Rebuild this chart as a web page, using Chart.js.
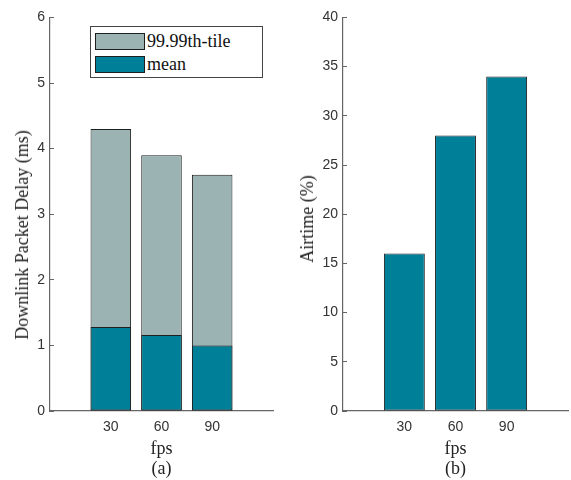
<!DOCTYPE html>
<html>
<head>
<meta charset="utf-8">
<script src="https://cdn.jsdelivr.net/npm/chart.js@4.4.0/dist/chart.umd.min.js"></script>
<style>
  body { margin: 0; background: #fff; }
  #wrap { position: relative; width: 571px; height: 480px; }
  canvas { position: absolute; top: 0; }
  .ytitle { position: absolute; font: 18px "Liberation Serif", serif; color: #222; white-space: nowrap;
            line-height: 1; transform: translate(-50%, -50%) rotate(-90deg); }
  #legend { position: absolute; left: 90px; top: 26px; width: 171px; height: 50px; border: 1px solid #444;
            background: #fff; box-sizing: content-box; padding: 0; }
  #legend .row { height: 23px; display: flex; align-items: center; font: 18px "Liberation Serif", serif; color: #111; }
  #legend .row:first-child { margin-top: 3px; }
  #legend .sw { width: 48px; height: 15px; border: 1px solid #1e1e1e; margin: 0 2px 0 4px; }
</style>
</head>
<body>
<div id="wrap">
  <canvas id="delay" width="290" height="480" style="left:0"></canvas>
  <canvas id="airtime" width="281" height="480" style="left:290px"></canvas>
  <div class="ytitle" style="left:22px;top:235px">Downlink Packet Delay (ms)</div>
  <div class="ytitle" style="left:307px;top:219px">Airtime (%)</div>
  <div id="legend"></div>
</div>
<script>
const fps = [30, 60, 90];
const delayTail = [4.3, 3.9, 3.6];     // 99.99th-tile (ms)
const delayMean = [1.28, 1.16, 1.0];   // mean (ms)
const airtime = [16, 28, 34];          // airtime (%)
const delayMax = 6, delayStep = 1;
const airMax = 40, airStep = 5;

const TEAL = '#007f99';
const GREY = '#9bb3b2';
const EDGE = '#1e1e1e';
const AXIS = '#666';

Chart.defaults.font.family = 'Liberation Sans';

const pts = vals => fps.map((x, i) => ({ x: x, y: vals[i] }));

function makeChart(id, datasets, yMax, yStep, yWidth, padRight, panel) {
  return new Chart(document.getElementById(id), {
    type: 'bar',
    data: { datasets: datasets },
    options: {
      responsive: false,
      animation: false,
      layout: { padding: { top: 14, right: padRight, bottom: 0, left: 0 } },
      plugins: { legend: { display: false }, tooltip: { enabled: false } },
      datasets: {
        bar: {
          grouped: false, categoryPercentage: 1, barPercentage: 0.8,
          borderWidth: 1, borderColor: EDGE, borderSkipped: false
        }
      },
      scales: {
        x: {
          type: 'linear', min: -6, max: 126, offset: false,
          afterBuildTicks: s => { s.ticks = fps.map(v => ({ value: v })); },
          afterFit: s => { s.height = 69; },
          ticks: { font: { size: 14 }, color: '#333', padding: 8, autoSkip: false, maxRotation: 0 },
          grid: { drawOnChartArea: false, drawTicks: false },
          border: { color: AXIS, width: 1.2 },
          title: {
            display: true, text: ['fps', panel], color: '#222',
            font: { family: 'Liberation Serif', size: 18, lineHeight: 1.1 },
            padding: { top: 0, bottom: 1 }
          }
        },
        y: {
          min: 0, max: yMax,
          afterFit: s => { s.width = yWidth; },
          ticks: { stepSize: yStep, font: { size: 14 }, color: '#333', padding: 9 },
          grid: { drawOnChartArea: false, tickLength: -4, tickColor: AXIS },
          border: { color: AXIS, width: 1.2 }
        }
      }
    }
  });
}

const delaySets = [
  { label: '99.99th-tile', data: pts(delayTail), backgroundColor: GREY, order: 2 },
  { label: 'mean', data: pts(delayMean), backgroundColor: TEAL, order: 1 }
];
makeChart('delay', delaySets, delayMax, delayStep, 50, 17, '(a)');
makeChart('airtime', [
  { label: 'airtime', data: pts(airtime), backgroundColor: TEAL }
], airMax, airStep, 53, 3, '(b)');

// legend inside panel (a)
const legend = document.getElementById('legend');
delaySets.forEach(ds => {
  const row = document.createElement('div');
  row.className = 'row';
  const sw = document.createElement('span');
  sw.className = 'sw';
  sw.style.background = ds.backgroundColor;
  row.appendChild(sw);
  row.appendChild(document.createTextNode(ds.label));
  legend.appendChild(row);
});
</script>
</body>
</html>
